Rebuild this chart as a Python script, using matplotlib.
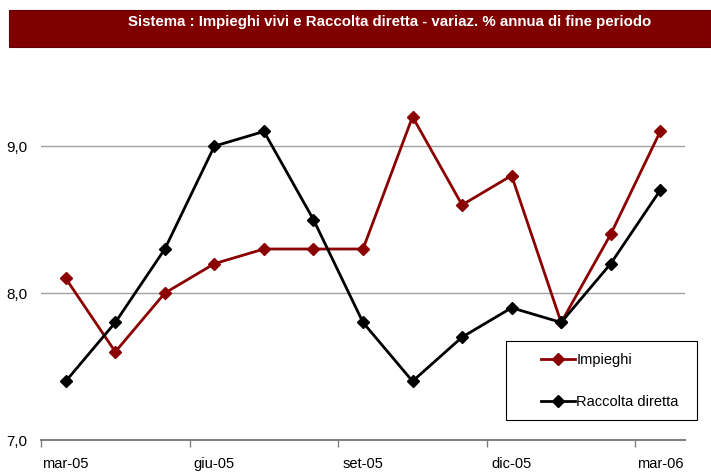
import matplotlib
matplotlib.use("Agg")
import matplotlib.pyplot as plt
from matplotlib.patches import Rectangle

plt.rcParams['font.family'] = ['Liberation Sans', 'DejaVu Sans']

months = ['mar-05', 'apr-05', 'mag-05', 'giu-05', 'lug-05', 'ago-05', 'set-05',
          'ott-05', 'nov-05', 'dic-05', 'gen-06', 'feb-06', 'mar-06']
impieghi = [8.1, 7.6, 8.0, 8.2, 8.3, 8.3, 8.3, 9.2, 8.6, 8.8, 7.8, 8.4, 9.1]
raccolta = [7.4, 7.8, 8.3, 9.0, 9.1, 8.5, 7.8, 7.4, 7.7, 7.9, 7.8, 8.2, 8.7]
yticks = [7.0, 8.0, 9.0]
ytick_labels = ['7,0', '8,0', '9,0']
title = 'Sistema : Impieghi vivi e Raccolta diretta - variaz. % annua di fine periodo'

fig = plt.figure(figsize=(7.11, 4.72), dpi=100)
W, H = 711, 472
ax = fig.add_axes([41 / W, (H - 440) / H, (685 - 41) / W, (440 - 58) / H])

x = list(range(len(months)))
red = '#8B0000'
ax.plot(x, impieghi, color=red, lw=2, marker='D', ms=6, mfc=red, mec=red, label='Impieghi', zorder=3)
ax.plot(x, raccolta, color='black', lw=2, marker='D', ms=6, mfc='black', mec='black', label='Raccolta diretta', zorder=3)

ax.set_xlim(-0.5, len(months) - 0.5)
ax.set_ylim(7.0, 9.6)
ax.set_yticks(yticks)
ax.set_yticklabels(ytick_labels, fontsize=11)
for y in yticks[1:]:
    ax.axhline(y, color='#a0a0a0', lw=1, zorder=1)

# category ticks every 3 months, placed between categories
ax.set_xticks([i - 0.5 for i in range(0, len(months), 3)])
ax.set_xticklabels([])
ax.set_xticks(list(range(0, len(months), 3)), minor=True)
ax.set_xticklabels([months[i] for i in range(0, len(months), 3)], minor=True, fontsize=10.5)
ax.tick_params(axis='x', which='major', length=5, color='#808080', width=1)
ax.tick_params(axis='x', which='minor', length=0, pad=12)
ax.tick_params(axis='y', length=0, pad=10)

for s in ['top', 'right', 'left']:
    ax.spines[s].set_visible(False)
ax.spines['bottom'].set_color('#808080')
ax.spines['bottom'].set_linewidth(1.5)

# legend frame drawn separately
fig.patches.append(Rectangle((506 / W, (H - 420) / H), (697 - 506) / W, (420 - 341) / H,
                             transform=fig.transFigure, facecolor='white',
                             edgecolor='black', lw=0.8, zorder=5))
leg = fig.legend(loc='lower left', bbox_to_anchor=(534 / W, (H - 416) / H),
                 frameon=False, fontsize=10.5,
                 handlelength=2.3, handletextpad=0.1, labelspacing=1.9,
                 borderpad=0.5, borderaxespad=0)
leg.set_zorder(6)

# title banner
fig.patches.append(Rectangle((9 / W, (H - 47) / H), (711 - 9) / W, 37 / H,
                             transform=fig.transFigure, facecolor='#800000',
                             edgecolor='#600000', lw=0.8))
fig.text(390 / W, (H - 22) / H, title, color='white', fontsize=10.8, fontweight='bold',
         ha='center', va='center')

fig.savefig('out.png', dpi=100)
